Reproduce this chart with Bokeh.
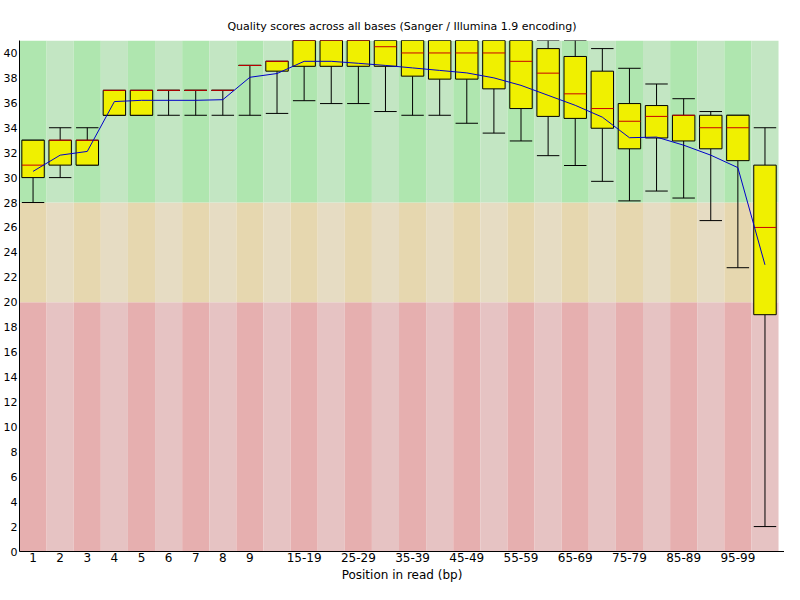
from bokeh.plotting import figure
from bokeh.models import Range1d, FixedTicker
from bokeh.embed import file_html
from bokeh.resources import INLINE

# ---------------- data ----------------
positions = ["1", "2", "3", "4", "5", "6", "7", "8", "9", "10-14", "15-19", "20-24",
             "25-29", "30-34", "35-39", "40-44", "45-49", "50-54", "55-59", "60-64",
             "65-69", "70-74", "75-79", "80-84", "85-89", "90-94", "95-99", "100-101"]

upper_quartile = [33, 33, 33, 37, 37, 37, 37, 37, 39, 39.33, 41, 41, 41, 41, 41, 41, 41, 41,
                  41, 40.35, 39.72, 38.54, 35.94, 35.78, 35, 35, 35, 31]
median = [31, 33, 33, 37, 37, 37, 37, 37, 39, 39.33, 41, 41, 41, 40.5, 40, 40, 40, 40,
          39.33, 38.38, 36.72, 35.54, 34.52, 34.91, 35, 34, 34, 26]
lower_quartile = [30, 31, 31, 35, 35, 37, 37, 37, 39, 38.54, 38.93, 38.93, 38.93, 38.93, 38.14,
                  37.9, 37.9, 37.12, 35.54, 34.91, 34.75, 33.96, 32.31, 33.18, 32.94, 32.31,
                  31.36, 19]
lower_whisker = [28, 30, 31, 35, 35, 35, 35, 35, 35, 35.15, 36.17, 35.94, 35.94, 35.3, 35, 35,
                 34.36, 33.57, 32.94, 31.76, 30.97, 29.7, 28.13, 28.92, 28.36, 26.55, 22.77, 2]
upper_whisker = [33, 34, 34, 37, 37, 37, 37, 37, 39, 39.33, 41, 41, 41, 41, 41, 41, 41, 41,
                 41, 41, 41, 40.35, 38.77, 37.51, 36.33, 35.3, 35, 34]
mean = [30.5, 31.8, 32.1, 36.1, 36.2, 36.2, 36.2, 36.25, 38.05, 38.35, 39.33, 39.33, 39.17,
        39.0, 38.8, 38.6, 38.4, 38.0, 37.4, 36.6, 35.8, 34.85, 33.2, 33.25, 32.6, 31.8,
        30.8, 23.0]

shown_labels = ["1", "2", "3", "4", "5", "6", "7", "8", "9", "15-19", "25-29", "35-39",
                "45-49", "55-59", "65-69", "75-79", "85-89", "95-99"]

zone_bottom = [0, 20, 28]
zone_top = [20, 28, 41]
zone_light = ["#e6c3c3", "#e6dcc3", "#c3e6c3"]
zone_dark = ["#e6afaf", "#e6d7af", "#afe6af"]

title_text = "Quality scores across all bases (Sanger / Illumina 1.9 encoding)"
x_title = "Position in read (bp)"

# ---------------- plot ----------------
n = len(positions)
idx = list(range(n))
centers = [i + 0.5 for i in idx]
inset = 0.086
lefts = [i + inset for i in idx]
rights = [i + 1 - inset for i in idx]

FONT = "DejaVu Sans"

p = figure(width=784, height=584, output_backend="svg", toolbar_location=None,
           x_range=Range1d(0, 28.22), y_range=Range1d(0, 41),
           min_border_left=12, min_border_right=0, min_border_top=40, min_border_bottom=0)
p.outline_line_color = None
p.background_fill_color = "white"
p.border_fill_color = "white"
p.xgrid.visible = False
p.ygrid.visible = False

# background stripes
for zb, zt, cl, cd in zip(zone_bottom, zone_top, zone_light, zone_dark):
    p.quad(left=idx, right=[i + 1 for i in idx], bottom=[zb] * n, top=[zt] * n,
           fill_color=[cd if i % 2 == 0 else cl for i in idx], line_color=None)

# whiskers
p.segment(x0=centers, y0=lower_whisker, x1=centers, y1=lower_quartile, line_color="black", line_width=1)
p.segment(x0=centers, y0=upper_quartile, x1=centers, y1=upper_whisker, line_color="black", line_width=1)
p.segment(x0=lefts, y0=lower_whisker, x1=rights, y1=lower_whisker, line_color="black", line_width=1)
p.segment(x0=lefts, y0=upper_whisker, x1=rights, y1=upper_whisker, line_color="black", line_width=1)

# boxes
p.quad(left=lefts, right=rights, bottom=lower_quartile, top=upper_quartile,
       fill_color="#f0f000", line_color="black", line_width=1)

# medians
p.segment(x0=lefts, y0=median, x1=rights, y1=median, line_color="#c80000", line_width=1)

# mean line
p.line(x=centers, y=mean, line_color="#0000c8", line_width=1)

# axes
shown_idx = [positions.index(s) for s in shown_labels]
p.xaxis.ticker = FixedTicker(ticks=[i + 0.5 for i in shown_idx])
p.xaxis.major_label_overrides = {i + 0.5: positions[i] for i in shown_idx}
p.yaxis.ticker = FixedTicker(ticks=list(range(0, 41, 2)))

for ax in (p.xaxis[0], p.yaxis[0]):
    ax.major_tick_line_color = None
    ax.minor_tick_line_color = None
    ax.major_tick_out = 0
    ax.major_tick_in = 0
    ax.axis_line_color = "black"
    ax.axis_line_width = 1
    ax.major_label_text_font = FONT
    ax.major_label_text_color = "black"
    ax.major_label_text_line_height = 1.0
p.xaxis.major_label_text_font_size = "12px"
p.yaxis.major_label_text_font_size = "11px"
p.xaxis.major_label_standoff = 1
p.yaxis.major_label_standoff = 2

p.xaxis.axis_label = x_title
p.xaxis.axis_label_text_font = FONT
p.xaxis.axis_label_text_font_size = "12px"
p.xaxis.axis_label_text_font_style = "normal"
p.xaxis.axis_label_text_color = "black"
p.xaxis.axis_label_text_line_height = 1.0
p.xaxis.axis_label_standoff = 3

p.title.text = title_text
p.title.align = "center"
p.title.text_font = FONT
p.title.text_font_size = "11px"
p.title.text_font_style = "normal"
p.title.text_color = "black"
p.title.text_line_height = 1.0
p.title.standoff = 15

open("out.html", "w").write(file_html(p, INLINE))
